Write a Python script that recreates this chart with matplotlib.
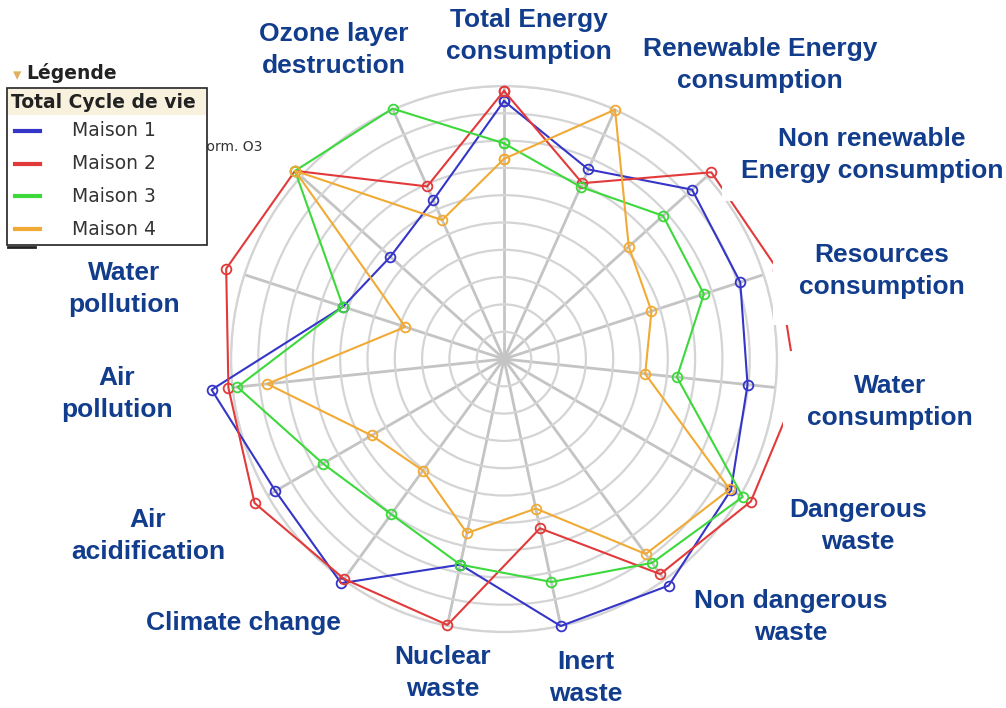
import numpy as np
import matplotlib
matplotlib.use("Agg")
import matplotlib.pyplot as plt
from matplotlib.patches import Rectangle
from matplotlib.lines import Line2D

W, H = 1006, 708

# axes clockwise from the top
categories = [
    "Total Energy\nconsumption",
    "Renewable Energy\nconsumption",
    "Non renewable\nEnergy consumption",
    "Resources\nconsumption",
    "Water\nconsumption",
    "Dangerous\nwaste",
    "Non dangerous\nwaste",
    "Inert\nwaste",
    "Nuclear\nwaste",
    "Climate change",
    "Air\nacidification",
    "Air\npollution",
    "Water\npollution",
    "Form. O3",
    "Ozone layer\ndestruction",
]

maison_1 = [94.5, 76, 92.7, 91, 89.7, 96, 102.6, 100, 77, 101.5, 96.7, 107.7, 62, 56, 63.7]
maison_2 = [98.2, 70.5, 102.2, 105.5, 108, 104.4, 97.4, 63.4, 99.6, 99.6, 105.5, 101.5, 107, 103, 69.2]
maison_3 = [79, 69, 78.4, 77, 63.7, 101, 92.3, 83.5, 77, 70.3, 76.6, 98.2, 62, 103, 100.4]
maison_4 = [73.3, 100, 61.5, 56.8, 52, 95.5, 88.3, 56, 65.2, 50.5, 56, 87.2, 38, 103, 55.7]

series_names = ["Maison 1", "Maison 2", "Maison 3", "Maison 4"]
series_colors = ["#3535c8", "#e23a3a", "#3cd83c", "#f0aa35"]

# where each outer label sits (pixel centres in the reference) and how wide its white box is
label_pos = [
    (529, 36), (760, 65), (872, 155), (882, 271), (890, 402), (858, 526),
    (791, 617), (586, 678), (443, 673), (243, 623), (148, 536), (117, 394),
    (124, 289), None, (334, 50),
]
label_pad = [0.5, 0.6, 0.7, 1.0, 0.9, 0.9, 0.6, 0.15, 0.3, 0.5, 0.6, 0.6, 0.6, 0, 0.5]


def fx(x):
    return x / W


def fy(y):
    return 1 - y / H


fig = plt.figure(figsize=(W / 100, H / 100), dpi=100)
fig.patch.set_facecolor("white")

# radar
cx, cy, R = 504, 359, 273
ax = fig.add_axes([fx(cx - R), fy(cy + R), 2 * R / W, 2 * R / H], projection="polar")
ax.set_theta_offset(np.pi / 2)
ax.set_theta_direction(-1)
ax.set_facecolor("none")

n = len(categories)
angles = np.arange(n) * 2 * np.pi / n
ax.set_thetagrids(np.degrees(angles), labels=[""] * n)
ax.set_rgrids(np.arange(10, 101, 10), labels=[""] * 10)
ax.set_ylim(0, 100)
ax.xaxis.grid(True, color="#c4c4c4", lw=2.0)
ax.yaxis.grid(True, color="#d4d4d4", lw=1.6)
ax.spines["polar"].set_color("#d4d4d4")
ax.spines["polar"].set_linewidth(1.6)
ax.tick_params(length=0)

for vals, col in zip([maison_1, maison_2, maison_3, maison_4], series_colors):
    a = np.append(angles, angles[0])
    v = np.append(vals, vals[0])
    ax.plot(a, v, color=col, lw=1.5, marker="o", ms=7, mfc="none", mec=col,
            mew=1.3, clip_on=False, zorder=3)

# outer labels (white boxes hide the lines like in the original)
for lab, pos, pad in zip(categories, label_pos, label_pad):
    if pos is None:
        continue
    fig.text(fx(pos[0]), fy(pos[1]), lab, ha="center", va="center",
             family=["Liberation Sans", "DejaVu Sans"], weight="bold", fontsize=19,
             color="#123c8c", linespacing=1.38, zorder=3,
             bbox=dict(boxstyle=f"square,pad={pad}", fc="white", ec="none"))

# half hidden label behind the legend
fig.text(fx(262), fy(147), "Form. O3", ha="right", va="center", fontsize=10,
         color="#333333", zorder=1)

# legend panel
leg = fig.add_axes([fx(0), fy(250), 215 / W, 190 / H], zorder=5)
leg.set_xlim(0, 215)
leg.set_ylim(250, 60)
leg.axis("off")
leg.add_patch(Rectangle((7, 88), 200, 157, fc="white", ec="#222222", lw=1.2))
leg.add_patch(Rectangle((7.6, 88.6), 198.8, 26, fc="#f8f1dd", ec="none"))
leg.plot([8, 35], [247, 247], color="#222222", lw=2)
leg.text(13, 75, "\u25be", color="#e0b060", fontsize=12, va="center", ha="left")
leg.text(26, 73, "Légende", fontsize=13.5, weight="bold", color="#222222", va="center")
leg.text(11, 102, "Total Cycle de vie", fontsize=13.5, weight="bold", color="#222222",
         va="center")
for i, (name, col) in enumerate(zip(series_names, series_colors)):
    y = 131 + i * 32.7
    leg.add_line(Line2D([15, 40], [y, y], color=col, lw=3))
    leg.text(72, y, name, fontsize=13.5, color="#333333", va="center")

fig.savefig("out.png", dpi=100)
